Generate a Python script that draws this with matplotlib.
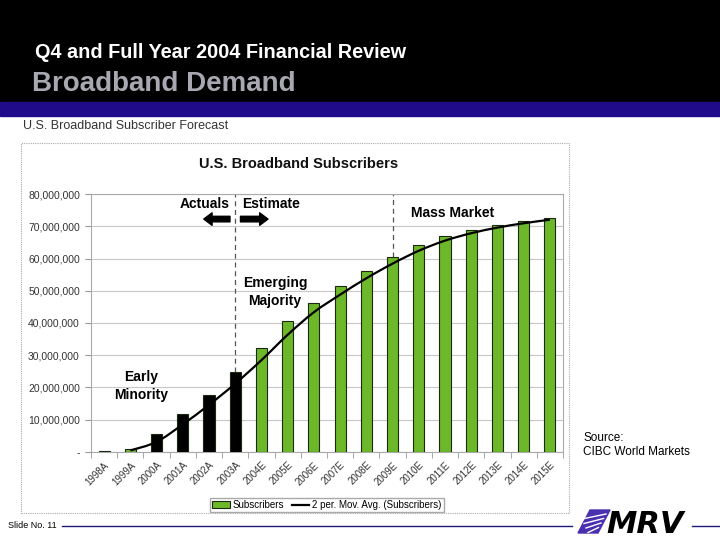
import numpy as np
import matplotlib
matplotlib.use('Agg')
import matplotlib.pyplot as plt
from matplotlib.path import Path
from matplotlib.patches import PathPatch, Rectangle, Polygon, Patch
from matplotlib.lines import Line2D
from matplotlib.ticker import FuncFormatter, MultipleLocator

plt.rcParams['font.family'] = ['Liberation Sans', 'DejaVu Sans']

# data
years = ['1998A', '1999A', '2000A', '2001A', '2002A', '2003A',
         '2004E', '2005E', '2006E', '2007E', '2008E', '2009E',
         '2010E', '2011E', '2012E', '2013E', '2014E', '2015E']
subscribers = [0.1, 0.7, 5.4, 11.6, 17.5, 24.8,
               32.1, 40.6, 46.1, 51.5, 56.3, 60.6,
               64.3, 66.9, 68.9, 70.4, 71.6, 72.6]   # millions
is_actual = [True, False, True, True, True, True] + [False] * 12
phase_lines = ['2003A', '2009E']

W, H = 720, 540


def fx(px):
    return px / W


def fy(py):
    return 1 - py / H


fig = plt.figure(figsize=(7.2, 5.4), dpi=100)

# header
fig.patches.append(Rectangle((0, fy(102)), 1, 102 / H, transform=fig.transFigure,
                             color='black', zorder=0))
fig.patches.append(Rectangle((0, fy(116)), 1, 14 / H, transform=fig.transFigure,
                             color='#200c8a', zorder=0))
fig.text(fx(35), fy(58), 'Q4 and Full Year 2004 Financial Review', color='white',
         fontsize=14.3, fontweight='bold', va='baseline')
fig.text(fx(32), fy(91), 'Broadband Demand', color='#a8a8b2',
         fontsize=20, fontweight='bold', va='baseline')
fig.text(fx(23), fy(129), 'U.S. Broadband Subscriber Forecast', color='#333333',
         fontsize=9, va='baseline')

# chart frame
fig.patches.append(Rectangle((fx(21), fy(513)), fx(569 - 21), (513 - 143) / H,
                             transform=fig.transFigure, fill=False,
                             edgecolor='#aaaaaa', linestyle=(0, (1, 1)), lw=0.8))
fig.text(fx(299), fy(168), 'U.S. Broadband Subscribers', ha='center', va='baseline',
         fontsize=10.5, fontweight='bold', color='#111111')

ax = fig.add_axes([fx(91), fy(451.7), fx(563 - 91), (451.7 - 194.3) / H])
x = np.arange(len(years))
vals = np.array(subscribers) * 1e6

colors = ['black' if a else '#6cb82a' for a in is_actual]
ax.bar(x, vals, width=0.42, color=colors, edgecolor='#1a2a10', linewidth=0.8, zorder=3)

# 2 period moving average, drawn as a smoothed curve
mavg = (vals[1:] + vals[:-1]) / 2
mx = x[1:].astype(float)
n = len(mx)
verts = [(mx[0], mavg[0])]
codes = [Path.MOVETO]
for i in range(n - 1):
    p0 = np.array([mx[max(i - 1, 0)], mavg[max(i - 1, 0)]])
    p1 = np.array([mx[i], mavg[i]])
    p2 = np.array([mx[i + 1], mavg[i + 1]])
    p3 = np.array([mx[min(i + 2, n - 1)], mavg[min(i + 2, n - 1)]])
    verts += [tuple(p1 + (p2 - p0) / 6), tuple(p2 - (p3 - p1) / 6), tuple(p2)]
    codes += [Path.CURVE4] * 3
ax.add_patch(PathPatch(Path(verts, codes), fill=False, edgecolor='black', lw=1.6, zorder=4))

# phase separators
for yr in phase_lines:
    i = years.index(yr)
    ax.vlines(i, vals[i], 80e6, colors='#555555', linestyles=(0, (4, 3)), lw=0.9, zorder=2)

ax.set_xlim(-0.5, len(years) - 0.5)
ax.set_ylim(0, 80e6)
ax.yaxis.set_major_locator(MultipleLocator(10e6))
ax.yaxis.set_major_formatter(FuncFormatter(lambda v, p: '-' if v == 0 else f'{v:,.0f}'))
ax.grid(axis='y', color='#c8c8c8', lw=0.8, zorder=0)
ax.set_xticks(x)
ax.set_xticklabels(years, rotation=45, ha='right', rotation_mode='anchor', fontsize=7,
                   color='#333333')
ax.set_xticks(np.arange(-0.5, len(years), 1), minor=True)
ax.tick_params(axis='x', which='major', length=0, pad=6)
ax.tick_params(axis='x', which='minor', length=4, color='#999999')
ax.tick_params(axis='y', length=4, color='#999999', labelsize=7.5, labelcolor='#333333', pad=4)
for s in ax.spines.values():
    s.set_color('#aaaaaa')
    s.set_linewidth(0.8)

# annotations
ax.text(4.8, 77e6, 'Actuals', ha='right', va='center', fontsize=10, fontweight='bold')
ax.text(5.25, 77e6, 'Estimate', ha='left', va='center', fontsize=10, fontweight='bold')
arrow = dict(arrowstyle='simple,head_length=0.6,head_width=0.9,tail_width=0.4',
             color='black', shrinkA=0, shrinkB=0)
ax.annotate('', xy=(3.8, 72.3e6), xytext=(4.8, 72.3e6), arrowprops=arrow)
ax.annotate('', xy=(6.25, 72.3e6), xytext=(5.2, 72.3e6), arrowprops=arrow)
ax.text(6.52, 49.6e6, 'Emerging\nMajority', ha='center', va='center', fontsize=10,
        fontweight='bold', linespacing=1.3)
ax.text(1.4, 20.4e6, 'Early\nMinority', ha='center', va='center', fontsize=10,
        fontweight='bold', linespacing=1.3)
ax.text(13.3, 74.2e6, 'Mass Market', ha='center', va='center', fontsize=10,
        fontweight='bold')

handles = [Patch(facecolor='#6cb82a', edgecolor='#1a2a10', lw=0.8),
           Line2D([], [], color='black', lw=1.6)]
fig.legend(handles, ['Subscribers', '2 per. Mov. Avg. (Subscribers)'],
           loc='center', bbox_to_anchor=(fx(327), fy(505)), ncol=2, fontsize=7,
           frameon=True, fancybox=False, edgecolor='#aaaaaa', borderpad=0.25,
           handlelength=1.8, handletextpad=0.3, columnspacing=0.8, framealpha=1)

# source note
fig.text(fx(583), fy(455), 'Source:\nCIBC World Markets', fontsize=8.5, color='black',
         va='baseline', linespacing=1.2)

# footer
fig.text(fx(8), fy(528), 'Slide No. 11', fontsize=6.5, va='baseline')
fig.add_artist(Line2D([fx(62), fx(572)], [fy(525.5), fy(525.5)], color='#1a1a7a', lw=1))
fig.add_artist(Line2D([fx(692), fx(720)], [fy(525.5), fy(525.5)], color='#1a1a7a', lw=1))
# logo: emblem plus letters
fig.patches.append(Polygon([(fx(578), fy(533)), (fx(590), fy(510)), (fx(610), fy(510)),
                            (fx(598), fy(533))], closed=True, transform=fig.transFigure,
                           color='#4a30b0'))
for k in range(4):
    y0 = 514 + k * 4.5
    fig.add_artist(Line2D([fx(582 + k * 2), fx(606 - k * 2.5)], [fy(y0 + 5), fy(y0)],
                          color='white', lw=1))
fig.text(fx(606), fy(533), 'MRV', fontsize=22, fontweight='bold', style='italic',
         color='black', va='baseline', family='DejaVu Sans')

fig.savefig('out.png', dpi=100)
